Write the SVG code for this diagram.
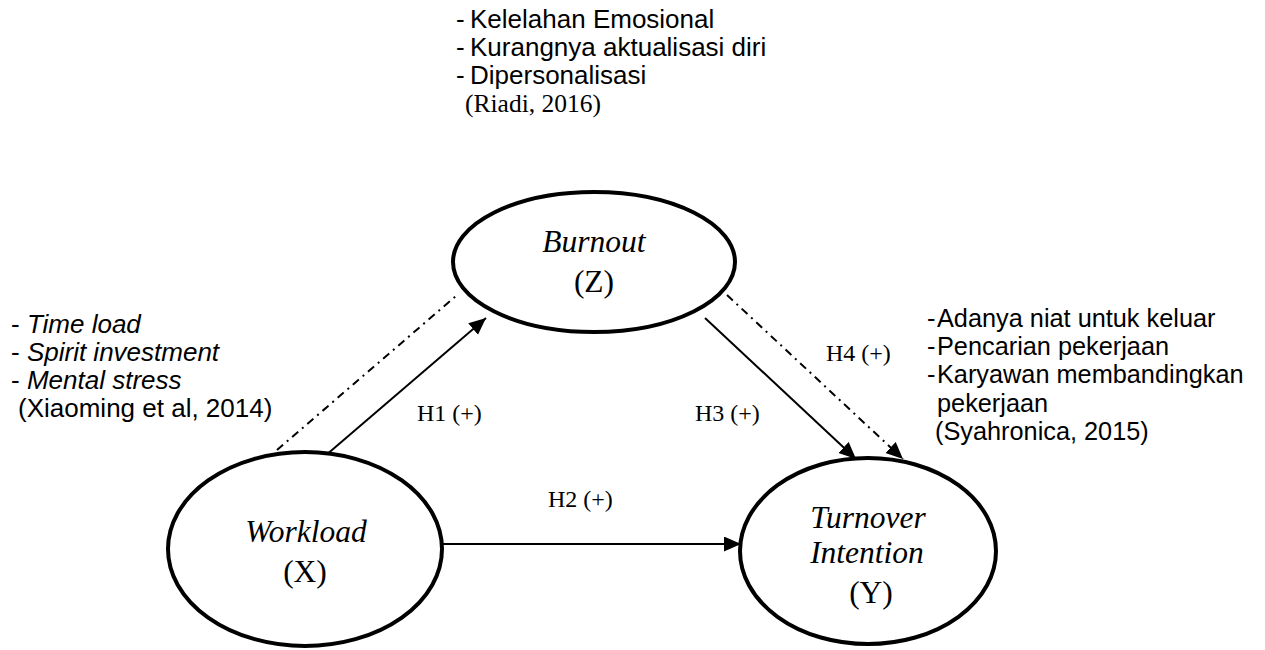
<svg xmlns="http://www.w3.org/2000/svg" width="1265" height="650" viewBox="0 0 1265 650">
  <style>
    .node { fill: #ffffff; stroke: #000000; stroke-width: 4; }
    .serif { font-family: "Liberation Serif", "Times New Roman", serif; fill: #000; }
    .sans { font-family: "Liberation Sans", Arial, sans-serif; fill: #000; font-size: 26px; }
    .sansR { font-size: 25.3px; }
    .nodeTxt { font-size: 31.5px; text-anchor: middle; }
    .hl { font-size: 24px; }
    .cite { font-size: 25.5px; }
    .it { font-style: italic; }
    .conn { stroke: #000; stroke-width: 2; fill: none; }
    .dd { stroke-dasharray: 8 5 2 5; }
  </style>
  <defs>
    <marker id="arrow" markerUnits="userSpaceOnUse" markerWidth="18" markerHeight="16" refX="17" refY="7.5" orient="auto">
      <path d="M0,0 L17,7.5 L0,15 z" fill="#000"/>
    </marker>
  </defs>
  <rect width="1265" height="650" fill="#ffffff"/>

  <g id="connectors">
    <line class="conn" x1="325" y1="456" x2="486" y2="318" marker-end="url(#arrow)"/>
    <line class="conn dd" x1="277" y1="450" x2="456" y2="296"/>
    <line class="conn" x1="443" y1="544" x2="741" y2="544" marker-end="url(#arrow)"/>
    <line class="conn" x1="705" y1="318" x2="856" y2="459" marker-end="url(#arrow)"/>
    <line class="conn dd" x1="727" y1="295" x2="903" y2="459" marker-end="url(#arrow)"/>
  </g>

  <g id="node-burnout">
    <ellipse class="node" cx="594" cy="262" rx="141" ry="70"/>
    <text class="serif nodeTxt it" x="594" y="252">Burnout</text>
    <text class="serif nodeTxt" x="594" y="292">(Z)</text>
  </g>

  <g id="node-workload">
    <ellipse class="node" cx="305" cy="549" rx="137" ry="97"/>
    <text class="serif nodeTxt it" x="306" y="542">Workload</text>
    <text class="serif nodeTxt" x="305" y="582">(X)</text>
  </g>

  <g id="node-turnover">
    <ellipse class="node" cx="868" cy="551" rx="128" ry="93"/>
    <text class="serif nodeTxt it" x="868" y="528">Turnover</text>
    <text class="serif nodeTxt it" x="867" y="563">Intention</text>
    <text class="serif nodeTxt" x="871" y="603">(Y)</text>
  </g>

  <g id="labels">
    <text class="serif hl" x="417" y="421">H1 (+)</text>
    <text class="serif hl" x="548" y="507">H2 (+)</text>
    <text class="serif hl" x="695" y="421">H3 (+)</text>
    <text class="serif hl" x="826" y="361">H4 (+)</text>
  </g>

  <g id="indicators-burnout">
    <text class="sans" x="456" y="28">-</text>
    <text class="sans" x="470" y="28">Kelelahan Emosional</text>
    <text class="sans" x="456" y="56">-</text>
    <text class="sans" x="470" y="56">Kurangnya aktualisasi diri</text>
    <text class="sans" x="456" y="84">-</text>
    <text class="sans" x="470" y="84">Dipersonalisasi</text>
    <text class="serif cite" x="465" y="112">(Riadi, 2016)</text>
  </g>

  <g id="indicators-workload">
    <text class="sans" x="11" y="333">- <tspan class="it">Time load</tspan></text>
    <text class="sans" x="11" y="361">- <tspan class="it">Spirit investment</tspan></text>
    <text class="sans" x="11" y="389">- <tspan class="it">Mental stress</tspan></text>
    <text class="sans" x="18" y="417">(Xiaoming et al, 2014)</text>
  </g>

  <g id="indicators-turnover">
    <text class="sans sansR" x="927" y="327">-</text>
    <text class="sans sansR" x="937" y="327">Adanya niat untuk keluar</text>
    <text class="sans sansR" x="927" y="355">-</text>
    <text class="sans sansR" x="937" y="355">Pencarian pekerjaan</text>
    <text class="sans sansR" x="927" y="383">-</text>
    <text class="sans sansR" x="937" y="383">Karyawan membandingkan</text>
    <text class="sans sansR" x="937" y="412">pekerjaan</text>
    <text class="sans sansR" x="935" y="440">(Syahronica, 2015)</text>
  </g>
</svg>
